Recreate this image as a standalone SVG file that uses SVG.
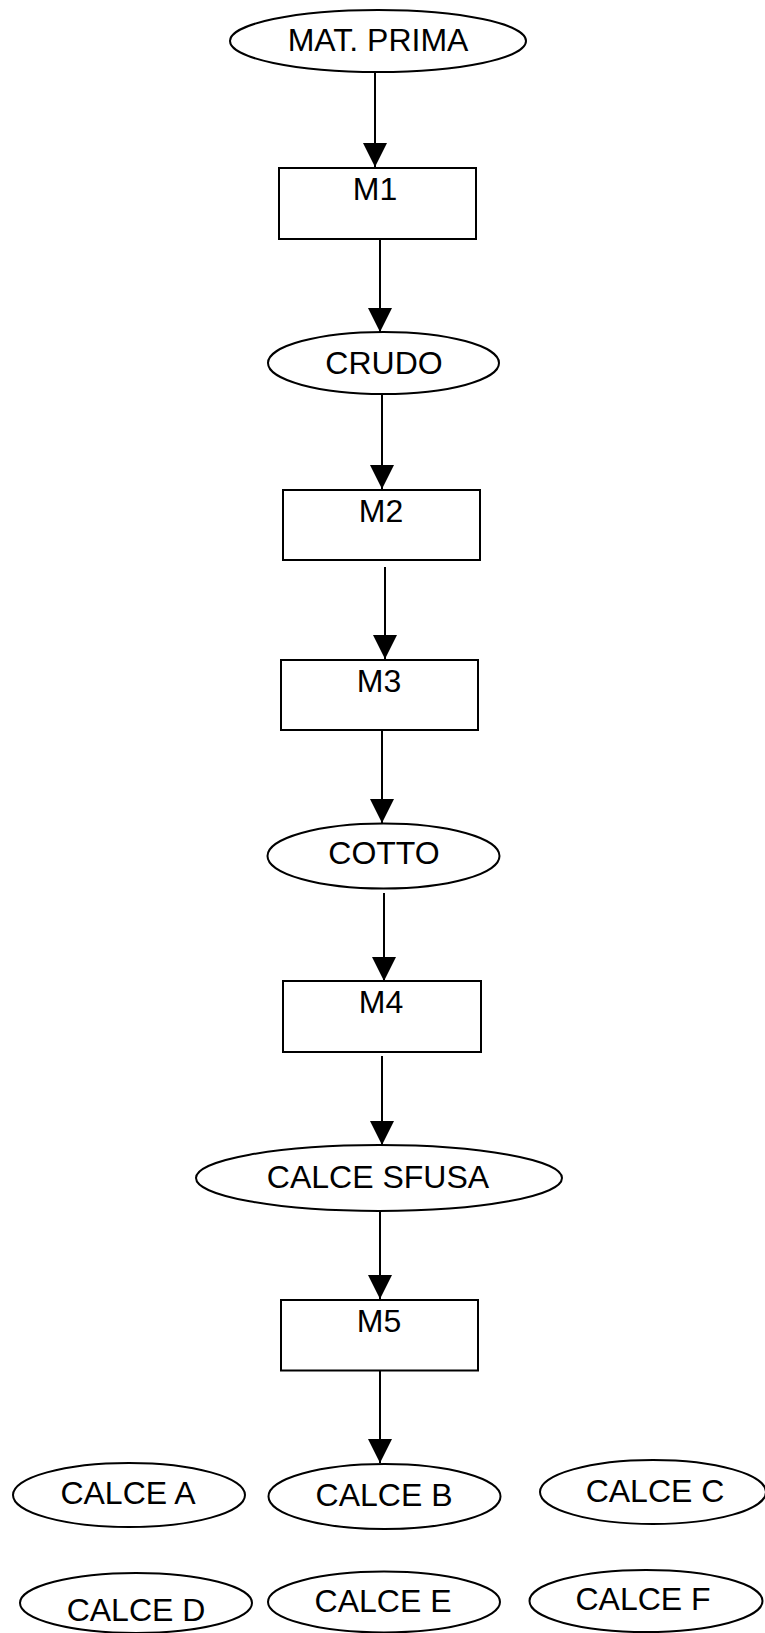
<svg xmlns="http://www.w3.org/2000/svg" width="765" height="1633" viewBox="0 0 765 1633">
<style>
.n{fill:#fff;stroke:#000;stroke-width:2}
.t{font-family:"Liberation Sans",Arial,sans-serif;font-size:32px;fill:#000;text-anchor:middle}
.c{stroke:#000;stroke-width:2;fill:none;marker-end:url(#ah)}
</style>
<defs>
<marker id="ah" markerUnits="userSpaceOnUse" markerWidth="24" markerHeight="24" refX="24" refY="12" orient="auto" viewBox="0 0 24 24">
<path d="M0,0 L24,12 L0,24 Z" fill="#000"/>
</marker>
</defs>
<rect width="765" height="1633" fill="#fff"/>
<g id="connectors">
<line class="c" x1="375" y1="73" x2="375" y2="167"/>
<line class="c" x1="380" y1="240" x2="380" y2="332"/>
<line class="c" x1="382" y1="394" x2="382" y2="489"/>
<line class="c" x1="385" y1="567" x2="385" y2="659"/>
<line class="c" x1="382" y1="730" x2="382" y2="823"/>
<line class="c" x1="384" y1="893" x2="384" y2="981"/>
<line class="c" x1="382" y1="1056" x2="382" y2="1145"/>
<line class="c" x1="380" y1="1212" x2="380" y2="1299"/>
<line class="c" x1="380" y1="1371" x2="380" y2="1463"/>
</g>
<g id="n_matprima"><ellipse class="n" cx="378" cy="41" rx="148" ry="31"/><text class="t" x="378" y="51">MAT. PRIMA</text></g>
<g id="n_m1"><rect class="n" x="279" y="168" width="197" height="71"/><text class="t" x="375" y="200">M1</text></g>
<g id="n_crudo"><ellipse class="n" cx="383.5" cy="363" rx="115.5" ry="31"/><text class="t" x="384" y="374">CRUDO</text></g>
<g id="n_m2"><rect class="n" x="283" y="490" width="197" height="70"/><text class="t" x="381" y="522">M2</text></g>
<g id="n_m3"><rect class="n" x="281" y="660" width="197" height="70"/><text class="t" x="379" y="692">M3</text></g>
<g id="n_cotto"><ellipse class="n" cx="383.5" cy="856" rx="116" ry="32.5"/><text class="t" x="384" y="864">COTTO</text></g>
<g id="n_m4"><rect class="n" x="283" y="981" width="198" height="71"/><text class="t" x="381" y="1013">M4</text></g>
<g id="n_sfusa"><ellipse class="n" cx="379" cy="1178" rx="183" ry="33"/><text class="t" x="378" y="1188">CALCE SFUSA</text></g>
<g id="n_m5"><rect class="n" x="281" y="1300" width="197" height="70.5"/><text class="t" x="379" y="1332">M5</text></g>
<g id="n_calcea"><ellipse class="n" cx="129" cy="1495" rx="116" ry="32"/><text class="t" x="128" y="1504">CALCE A</text></g>
<g id="n_calceb"><ellipse class="n" cx="384.5" cy="1496.5" rx="116" ry="32.5"/><text class="t" x="384" y="1506">CALCE B</text></g>
<g id="n_calcec"><ellipse class="n" cx="653" cy="1492" rx="113" ry="32"/><text class="t" x="655" y="1502">CALCE C</text></g>
<g id="n_calced"><ellipse class="n" cx="136" cy="1603" rx="116" ry="30"/><text class="t" x="136" y="1621">CALCE D</text></g>
<g id="n_calcee"><ellipse class="n" cx="384" cy="1602" rx="116" ry="30.5"/><text class="t" x="383" y="1612">CALCE E</text></g>
<g id="n_calcef"><ellipse class="n" cx="646" cy="1601" rx="116.5" ry="31"/><text class="t" x="643" y="1610">CALCE F</text></g>
</svg>
